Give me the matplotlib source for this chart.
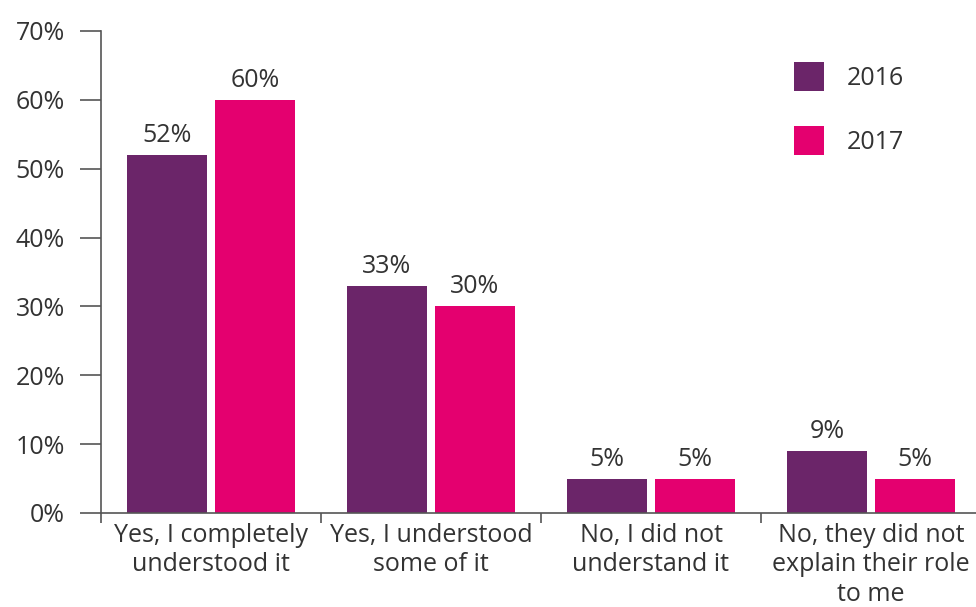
import matplotlib
matplotlib.use("Agg")
import matplotlib.pyplot as plt
import numpy as np

categories = ["Yes, I completely\nunderstood it", "Yes, I understood\nsome of it",
              "No, I did not\nunderstand it", "No, they did not\nexplain their role\nto me"]
years = ["2016", "2017"]
values_2016 = [52, 33, 5, 9]
values_2017 = [60, 30, 5, 5]
y_ticks = [0, 10, 20, 30, 40, 50, 60, 70]

col_2016 = "#6B2569"
col_2017 = "#E4006F"
text_col = "#333333"
axis_col = "#555555"

plt.rcParams["font.family"] = ["Open Sans", "DejaVu Sans"]
fs = 18

fig = plt.figure(figsize=(9.76, 6.07), dpi=100)
ax = fig.add_axes([101 / 976, 94 / 607, 875 / 976, 482 / 607])

x = np.arange(len(categories))
bw = 80 / 220
off = 44 / 220
b1 = ax.bar(x - off, values_2016, bw, color=col_2016, label=years[0])
b2 = ax.bar(x + off, values_2017, bw, color=col_2017, label=years[1])

for bars, vals in ((b1, values_2016), (b2, values_2017)):
    for r, v in zip(bars, vals):
        ax.annotate(f"{v}%", (r.get_x() + r.get_width() / 2, v), xytext=(0, 5),
                    textcoords="offset points", ha="center", va="bottom",
                    fontsize=fs, color=text_col)

ax.set_xlim(-0.5, -0.5 + 875 / 220)
ax.set_ylim(0, 70)
ax.set_yticks(y_ticks)
ax.set_yticklabels([f"{t}%" for t in y_ticks])

ax.set_xticks(x)
ax.set_xticklabels(categories, linespacing=1.25)
ax.set_xticks(np.arange(-0.5, len(categories) - 0.5), minor=True)

for s in ("top", "right"):
    ax.spines[s].set_visible(False)
for s in ("left", "bottom"):
    ax.spines[s].set_color(axis_col)
    ax.spines[s].set_linewidth(1.2)

ax.tick_params(axis="y", length=15, width=1.2, color=axis_col, labelsize=fs,
               labelcolor=text_col, pad=11)
ax.tick_params(axis="x", which="major", length=0, labelsize=fs, labelcolor=text_col, pad=7)
ax.tick_params(axis="x", which="minor", length=7, width=1.2, color=axis_col)

leg = ax.legend(loc="upper left", bbox_to_anchor=(0.792, 0.9357), frameon=False,
                fontsize=fs, handlelength=1.2, handleheight=1.4, handletextpad=0.9,
                labelspacing=1.4, borderpad=0, borderaxespad=0, labelcolor=text_col)

fig.savefig("out.png", dpi=100)
